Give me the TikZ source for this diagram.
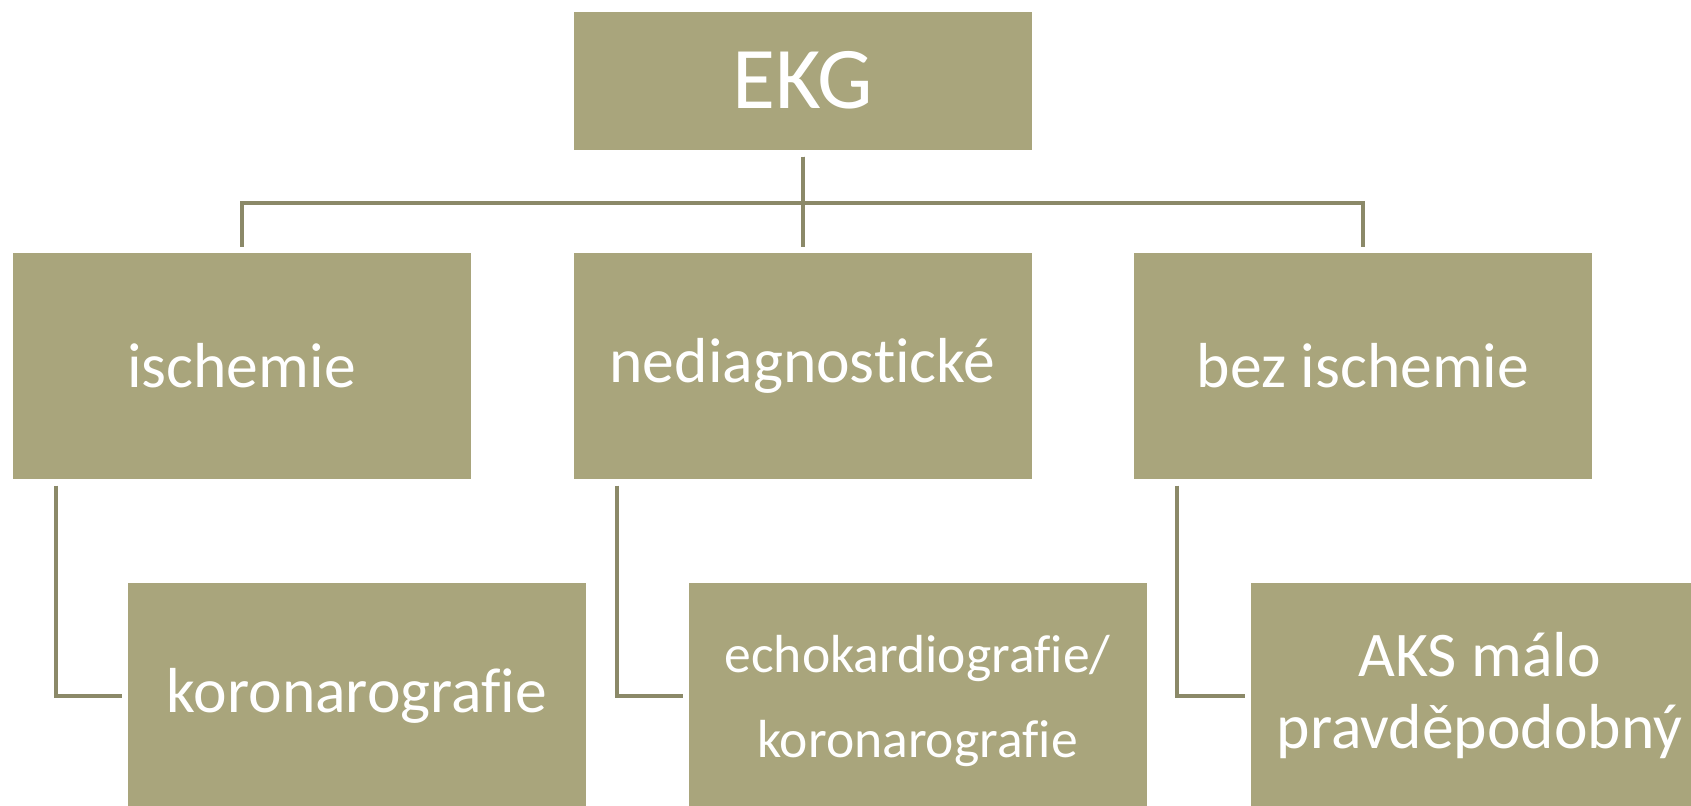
\documentclass[tikz,border=0pt]{standalone}
\usepackage{fontspec}
\setmainfont{Carlito}[RawFeature={-liga;-dlig;-clig}]
\usetikzlibrary{calc}
\definecolor{boxfill}{RGB}{169,165,124}
\definecolor{linecol}{RGB}{139,137,104}
\begin{document}
\begin{tikzpicture}[x=0.5pt,y=-0.5pt,
  box/.style={rectangle, fill=boxfill, draw=white, line width=0.5pt, text=white,
    align=center, inner sep=0pt, minimum width=229.5pt, minimum height=113.5pt},
  big/.style={font=\fontsize{31.8}{36}\selectfont},
  conn/.style={draw=linecol, line width=2pt, line join=miter}]
\useasboundingbox (0,0) rectangle (1691,805);
\clip (0,0) rectangle (1691,805);
\node[box, minimum height=69.5pt, font=\fontsize{44}{50}\selectfont] (ekg) at (802.5,80.5) {EKG};
\node[box, big] (isch) at (241.5,365.5) {ischemie};
\node[box, big] (ned) at (802.5,365.5) {nediagnostické};
\node[box, big] (bez) at (1363,365.5) {bez ischemie};
\node[box, big] (kor) at (357,695.5) {koronarografie};
\node[box, label={[text=white, align=center, inner sep=0pt, yshift=-2.5pt,
    font=\fontsize{26.8}{42.5}\selectfont]center:{echokardiografie/\\koronarografie}}]
  (echo) at (917.5,695.5) {};
\node[box, big] (aks) at (1479.5,695.5) {AKS málo\\pravděpodobný};
% top connectors
\draw[conn, shorten <=3pt, shorten >=2.5pt] (ekg.south) -- (ned.north);
\draw[conn, shorten <=3pt, shorten >=2.5pt] (ekg.south) -- ++(0,52) -| (isch.north);
\draw[conn, shorten <=3pt, shorten >=2.5pt] (ekg.south) -- ++(0,52) -| (bez.north);
% lower connectors
\coordinate (c1) at ($(isch.south west)+(44,6)$);
\coordinate (c2) at ($(ned.south west)+(44,6)$);
\coordinate (c3) at ($(bez.south west)+(44,6)$);
\draw[conn, shorten >=2.5pt] (c1) |- (kor.west);
\draw[conn, shorten >=2.5pt] (c2) |- (echo.west);
\draw[conn, shorten >=2.5pt] (c3) |- (aks.west);
\end{tikzpicture}
\end{document}
